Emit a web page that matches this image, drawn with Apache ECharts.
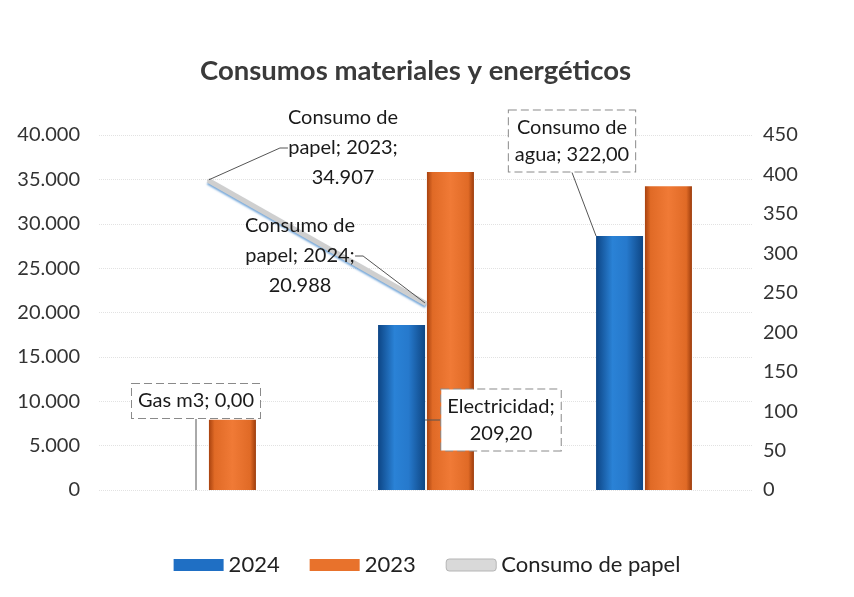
<!DOCTYPE html>
<html>
<head>
<meta charset="utf-8">
<script src="https://cdn.jsdelivr.net/npm/echarts@6/dist/echarts.min.js"></script>
<style>
html,body{margin:0;padding:0;background:#fff;}
#chart{width:854px;height:597px;}
</style>
</head>
<body>
<div id="chart"></div>
<script>
var categories = ['Gas m3', 'Electricidad', 'Consumo de agua'];
var values2024 = [0, 209.2, 322];
var values2023 = [89, 403, 385];
var papel = [34907, 20988, null];
var papelYears = ['2023', '2024', ''];
var leftTicks = [0, 5000, 10000, 15000, 20000, 25000, 30000, 35000, 40000];
var rightTicks = [0, 50, 100, 150, 200, 250, 300, 350, 400, 450];

var FONT = 'Lato';
function fmtThousands(v){
  return String(Math.round(v)).replace(/\B(?=(\d{3})+(?!\d))/g, '.');
}
function fmtDec(v){ return v.toFixed(2).replace('.', ','); }

var chart = echarts.init(document.getElementById('chart'));

var boxLabel = {
  show: true,
  position: 'top',
  color: '#1a1a1a',
  fontFamily: FONT,
  fontSize: 20,
  lineHeight: 27,
  backgroundColor: '#ffffff',
  borderColor: '#8a8a8a',
  borderWidth: 1,
  borderType: 'dashed',
  padding: [4, 6, 3, 6]
};

// label positions (centers) for the callouts
var bar2024LabelPos = [[196, 401], [501, 420], [572, 141]];
var bar2024LabelText = [
  function(i){ return categories[i] + '; ' + fmtDec(values2024[i]); },
  function(i){ return categories[i] + ';\n' + fmtDec(values2024[i]); },
  function(i){ return 'Consumo de\nagua; ' + fmtDec(values2024[i]); }
];
var papelLabelPos = [[343, 148], [300, 256]];

var blueGrad = new echarts.graphic.LinearGradient(0, 0, 1, 0, [
  {offset: 0, color: '#0d4585'},
  {offset: 0.35, color: '#2a82d6'},
  {offset: 0.65, color: '#2679cc'},
  {offset: 1, color: '#0e4684'}
]);
var orangeGrad = new echarts.graphic.LinearGradient(0, 0, 1, 0, [
  {offset: 0, color: '#a8420f'},
  {offset: 0.12, color: '#e06a26'},
  {offset: 0.5, color: '#f07a36'},
  {offset: 0.88, color: '#e06a26'},
  {offset: 1, color: '#9c3c0c'}
]);

var option = {
  backgroundColor: '#ffffff',
  animation: false,
  title: {
    text: 'Consumos materiales y energéticos',
    left: 195,
    top: 52,
    textStyle: {fontFamily: FONT, fontSize: 27.5, fontWeight: 'bold', color: '#3a3a3a'}
  },
  legend: {
    bottom: 16,
    left: 'center',
    itemWidth: 50,
    itemHeight: 12,
    itemGap: 30,
    textStyle: {fontFamily: FONT, fontSize: 22, color: '#222'},
    data: [
      {name: '2024', icon: 'rect', itemStyle: {color: '#1f6fc4'}},
      {name: '2023', icon: 'rect', itemStyle: {color: '#e8722c'}},
      {name: 'Consumo de papel', icon: 'roundRect', itemStyle: {color: '#d9d9d9', borderColor: '#b5b5b5', borderWidth: 1, opacity: 1}}
    ]
  },
  grid: {left: 99, right: 101, top: 135, bottom: 107},
  xAxis: {
    type: 'category',
    data: categories,
    axisLine: {show: false},
    axisTick: {show: false},
    axisLabel: {show: false}
  },
  yAxis: [
    {
      type: 'value', min: 0, max: 40000, interval: 5000, position: 'left',
      axisLine: {show: false}, axisTick: {show: false},
      axisLabel: {fontFamily: FONT, fontSize: 20, color: '#333', margin: 19, formatter: fmtThousands},
      splitLine: {lineStyle: {color: '#e2e2e2', type: 'dotted'}}
    },
    {
      type: 'value', min: 0, max: 450, interval: 50, position: 'right',
      axisLine: {show: false}, axisTick: {show: false},
      axisLabel: {fontFamily: FONT, fontSize: 20, color: '#333', margin: 10},
      splitLine: {show: false}
    }
  ],
  series: [
    {
      name: '2024', type: 'bar', yAxisIndex: 1,
      barWidth: 47, barGap: '4%',
      itemStyle: {color: blueGrad},
      data: values2024,
      label: Object.assign({}, boxLabel, {
        formatter: function(p){ return bar2024LabelText[p.dataIndex](p.dataIndex); }
      }),
      labelLine: {show: true, lineStyle: {color: '#555', width: 1}},
      labelLayout: function(p){
        var c = bar2024LabelPos[p.dataIndex];
        return {x: c[0], y: c[1], align: 'center', verticalAlign: 'middle', hideOverlap: false};
      },
      z: 3
    },
    {
      name: '2023', type: 'bar', yAxisIndex: 1,
      barWidth: 47,
      itemStyle: {color: orangeGrad},
      data: values2023,
      z: 2
    },
    {
      name: 'Consumo de papel', type: 'line', yAxisIndex: 0,
      data: papel,
      symbol: 'circle',
      symbolSize: 2,
      showSymbol: true,
      lineStyle: {color: '#cfcfcf', width: 5, shadowColor: 'rgba(90,150,210,0.8)', shadowBlur: 2, shadowOffsetY: 2},
      itemStyle: {color: '#cfcfcf'},
      label: {
        show: true, position: 'top',
        fontFamily: FONT, fontSize: 20, lineHeight: 30, color: '#1a1a1a',
        align: 'center',
        formatter: function(p){
          return 'Consumo de\npapel; ' + papelYears[p.dataIndex] + ';\n' + fmtThousands(p.value);
        }
      },
      labelLine: {show: true, length2: 8, lineStyle: {color: '#555', width: 1}},
      labelLayout: function(p){
        var c = papelLabelPos[p.dataIndex];
        if (!c) return {};
        return {x: c[0], y: c[1], align: 'center', verticalAlign: 'middle', hideOverlap: false};
      },
      z: 5
    }
  ]
};
chart.setOption(option);
</script>
</body>
</html>
